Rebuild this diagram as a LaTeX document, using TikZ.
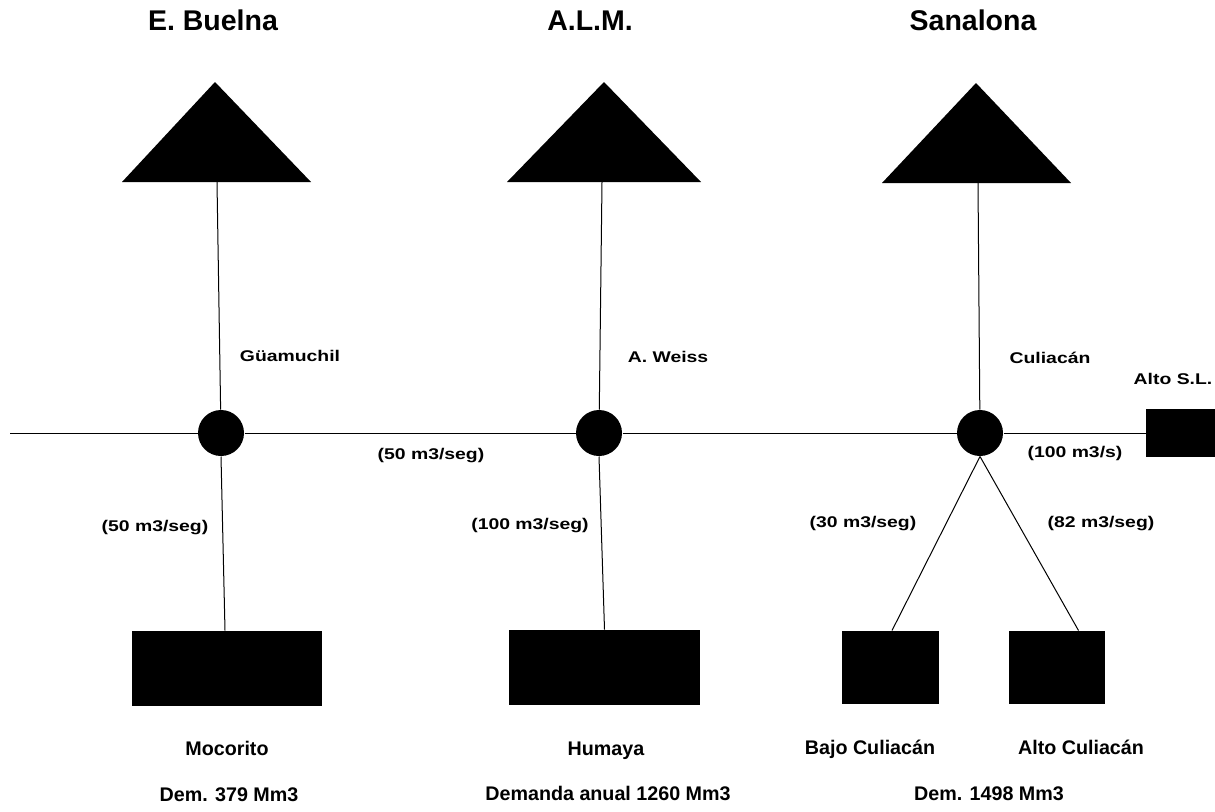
\documentclass[tikz,border=0pt]{standalone}
\usepackage{fontspec}
\setmainfont{Liberation Sans}
\newfontfamily\flowfont[FakeStretch=1.25]{Liberation Sans}
\begin{document}
\begin{tikzpicture}[x=1pt,y=-1pt,line width=1pt,
    title/.style={font=\bfseries\fontsize{28.5}{30}\selectfont,text height=1.38ex,text depth=0pt},
    flow/.style={font=\flowfont\bfseries\fontsize{15.5}{17}\selectfont,text height=1.38ex,text depth=0pt},
    zone/.style={font=\bfseries\fontsize{19.7}{21}\selectfont,text height=1.38ex,text depth=0pt},
    junction/.style={circle,fill,minimum size=46pt,inner sep=0pt},
    area/.style={rectangle,fill,inner sep=0pt,minimum height=75pt}]
    \useasboundingbox (0,0) rectangle (1215,811);

    % presas
    \node[title] (tEB) at (213,27) {E. Buelna};
    \node[title] (tALM) at (590,27) {A.L.M.};
    \node[title] (tSan) at (973,27) {Sanalona};
    \fill (122,182) -- (215,82) -- (311,182) -- cycle;
    \fill (507,182) -- (604,82) -- (701,182) -- cycle;
    \fill (882,183) -- (976,83) -- (1071,183) -- cycle;
    \coordinate (pEB) at (217,182);
    \coordinate (pALM) at (602,182);
    \coordinate (pSan) at (978,183);

    % nodos de derivacion
    \node[junction] (cEB) at (221,433) {};
    \node[junction] (cALM) at (599,433) {};
    \node[junction] (cSan) at (980,433) {};
    \node[rectangle,fill,inner sep=0pt,minimum width=69pt,minimum height=48pt] (altoSL) at (1180.5,433) {};
    \coordinate (west) at (10,433);

    % zonas de riego
    \node[area,minimum width=190pt] (moc) at (227,668.5) {};
    \node[area,minimum width=191pt] (hum) at (604.5,667.5) {};
    \node[area,minimum width=97pt,minimum height=73pt] (bajo) at (890.5,667.5) {};
    \node[area,minimum width=96pt,minimum height=73pt] (alto) at (1057,667.5) {};

    \draw (pEB) -- (cEB);
    \draw (pALM) -- (cALM);
    \draw (pSan) -- (cSan);
    \draw (west) -- (cEB) -- (cALM) -- (cSan) -- (altoSL);
    \draw (cEB.south) -- ([xshift=-2pt]moc.north);
    \draw (cALM.south) -- (hum.north);
    \draw (cSan.south) -- ([xshift=1.5pt]bajo.north);
    \draw (cSan.south) -- ([xshift=-27pt]alto.north east);

    % etiquetas
    \node[flow] (lGua) at (290,358) {Güamuchil};
    \node[flow] (lWei) at (668,359) {A. Weiss};
    \node[flow] (lCul) at (1050,360) {Culiacán};
    \node[flow] (lASL) at (1173,381) {Alto S.L.};
    \node[flow] (qEB) at (431,456) {(50 m3/seg)};
    \node[flow] (qASL) at (1075,454) {(100 m3/s)};
    \node[flow] (qMoc) at (155,528) {(50 m3/seg)};
    \node[flow] (qHum) at (530,526) {(100 m3/seg)};
    \node[flow] (qBajo) at (863,524) {(30 m3/seg)};
    \node[flow] (qAlto) at (1101,524) {(82 m3/seg)};

    \node[zone] (nMoc) at (227,752) {Mocorito};
    \node[zone] (nHum) at (606,752) {Humaya};
    \node[zone] (nBajo) at (870,751) {Bajo Culiacán};
    \node[zone] (nAlto) at (1081,751) {Alto Culiacán};
    \node[zone] (dMoc) at (229,798) {Dem. 379 Mm3};
    \node[zone] (dHum) at (608,797) {Demanda anual 1260 Mm3};
    \node[zone] (dSan) at (989,797) {Dem. 1498 Mm3};
\end{tikzpicture}
\end{document}
